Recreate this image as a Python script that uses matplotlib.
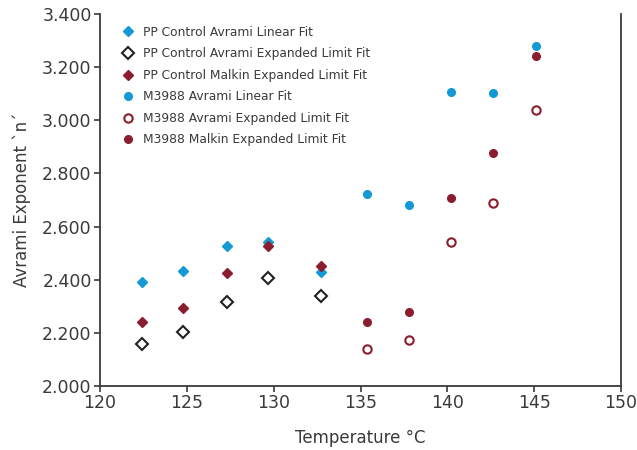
import matplotlib.pyplot as plt

plt.rcParams['font.family'] = ['DejaVu Sans']

# PP Control (diamonds)
pp_temp = [122.4, 124.8, 127.3, 129.7, 132.7]
pp_avrami_linear = [2.393, 2.433, 2.527, 2.543, 2.428]
pp_avrami_expanded = [2.157, 2.204, 2.316, 2.408, 2.339]
pp_malkin_expanded = [2.240, 2.295, 2.427, 2.528, 2.450]

# M3988 (circles)
m_temp = [135.4, 137.8, 140.2, 142.6, 145.1]
m_avrami_linear = [2.721, 2.682, 3.107, 3.102, 3.280]
m_avrami_expanded = [2.139, 2.173, 2.543, 2.689, 3.039]
m_malkin_expanded = [2.240, 2.279, 2.708, 2.876, 3.241]

blue = '#1499d6'
red = '#8b1e2e'
txt = '#3a3a3a'

fig = plt.figure(figsize=(6.37, 4.5), dpi=100)
ax = fig.add_axes([0.157, 0.142, 0.818, 0.827])

ax.plot(pp_temp, pp_avrami_linear, 'D', color=blue, ms=5, mec=blue,
        label='PP Control Avrami Linear Fit')
ax.plot(pp_temp, pp_avrami_expanded, 'D', color='white', ms=6, mec='#222222', mew=1.5,
        label='PP Control Avrami Expanded Limit Fit')
ax.plot(pp_temp, pp_malkin_expanded, 'D', color=red, ms=5, mec=red,
        label='PP Control Malkin Expanded Limit Fit')
ax.plot(m_temp, m_avrami_linear, 'o', color=blue, ms=5.5, mec=blue,
        label='M3988 Avrami Linear Fit')
ax.plot(m_temp, m_avrami_expanded, 'o', color='white', ms=6, mec=red, mew=1.5,
        label='M3988 Avrami Expanded Limit Fit')
ax.plot(m_temp, m_malkin_expanded, 'o', color=red, ms=5.5, mec=red,
        label='M3988 Malkin Expanded Limit Fit')

ax.set_xlim(120, 150)
ax.set_ylim(2.0, 3.4)
ax.set_xticks(range(120, 151, 5))
ax.set_yticks([2.0, 2.2, 2.4, 2.6, 2.8, 3.0, 3.2, 3.4])
ax.set_yticklabels(['%.3f' % v for v in ax.get_yticks()])

for s in ['left', 'bottom', 'right']:
    ax.spines[s].set_color(txt)
    ax.spines[s].set_linewidth(1.3)
ax.spines['top'].set_visible(False)
ax.tick_params(colors=txt, labelcolor=txt, labelsize=12.5, length=4, width=1.2, pad=2)

ax.set_xlabel('Temperature °C', fontsize=12, color=txt, labelpad=12)
ax.set_ylabel('Avrami Exponent `n´', fontsize=12, color=txt, labelpad=8)

ax.legend(loc='upper left', bbox_to_anchor=(0.02, 0.998), frameon=False, fontsize=8.8,
          handletextpad=0.65, labelspacing=0.7, handlelength=1.1, labelcolor=txt)

plt.savefig('out.png')
